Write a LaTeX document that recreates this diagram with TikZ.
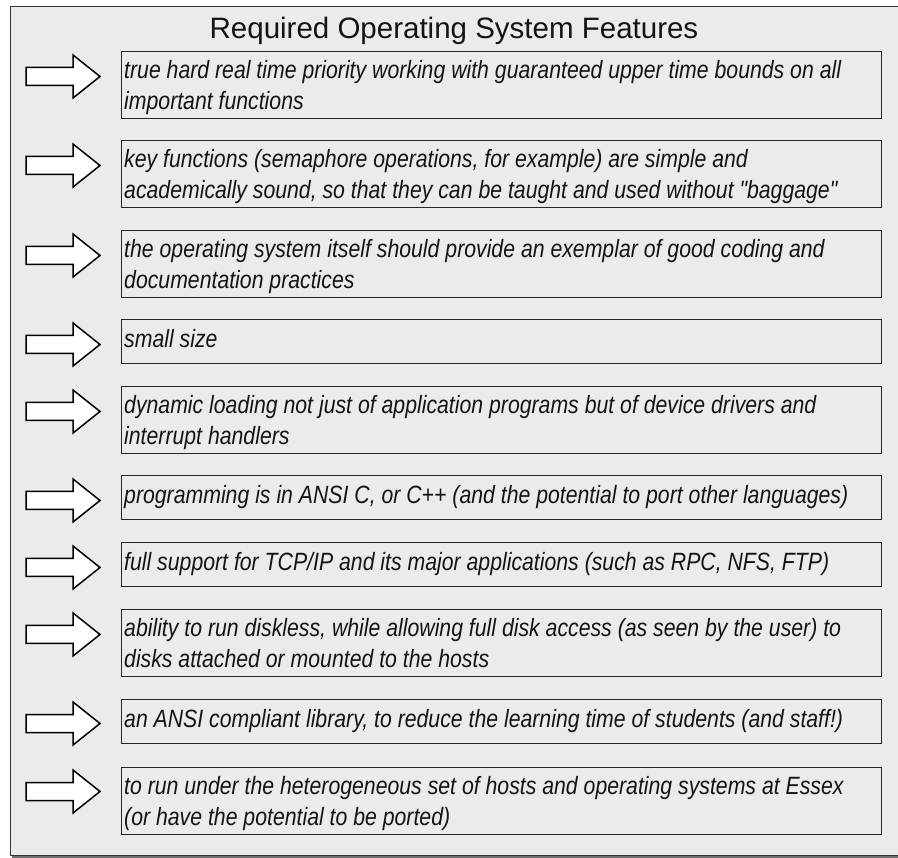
\documentclass[tikz,border=0pt]{standalone}
\usepackage{fontspec}
\setmainfont{Liberation Sans}
\newfontfamily\bodyfont[FakeStretch=0.85]{Liberation Sans}
\usetikzlibrary{calc}
\definecolor{panel}{HTML}{EBEBEB}
\definecolor{shadowgray}{HTML}{707070}
\tikzset{
  x=1pt, y=-1pt,
  itembox/.style={draw=black!85, line width=1pt, fill=panel, rectangle},
  itemtxt/.style={anchor=base west, inner sep=0pt, font=\bodyfont\itshape\fontsize{25}{30}\selectfont, text=black!92},
  bigarrow/.style={draw=black, line width=1.5pt, fill=white, line join=miter},
}
\newcommand{\itemarrow}[1]{%
  \draw[bigarrow] ($(#1)+(26,-9)$) -- ($(#1)+(73,-9)$) -- ($(#1)+(73,-21.5)$) -- ($(#1)+(100,0)$) -- ($(#1)+(73,21.5)$) -- ($(#1)+(73,9)$) -- ($(#1)+(26,9)$) -- cycle;}
\newcommand{\itemtwo}[4]{% name, top, line1, line2
  \draw[itembox] (121,#2) rectangle (881,#2+67);
  \coordinate (a#1) at (0,#2+24.5);
  \itemarrow{a#1}
  \node[itemtxt] (t#1a) at (124,#2+27) {#3};
  \node[itemtxt] (t#1b) at (124,#2+58) {#4};}
\newcommand{\itemone}[3]{% name, top, line1
  \draw[itembox] (121,#2) rectangle (881,#2+44);
  \coordinate (a#1) at (0,#2+24.5);
  \itemarrow{a#1}
  \node[itemtxt] (t#1a) at (124,#2+28) {#3};}
\begin{document}
\begin{tikzpicture}
\useasboundingbox (0,0) rectangle (898,858);
\fill[white] (0,0) rectangle (898,858);
\draw[shadowgray, line width=3pt] (12,856.5) -- (905,856.5);
\draw[black!80, line width=1pt, fill=panel] (10,7) rectangle (905,855);
\node[anchor=base, inner sep=0pt, font=\fontsize{29.5}{32}\selectfont, text=black!92] (title) at (454,39) {Required Operating System Features};
\itemtwo{1}{52}{true hard real time priority working with guaranteed upper time bounds on all}{important functions}
\itemtwo{2}{141}{key functions (semaphore operations, for example) are simple and}{academically sound, so that they can be taught and used without "baggage"}
\itemtwo{3}{231}{the operating system itself should provide an exemplar of good coding and}{documentation practices}
\itemone{4}{320}{small size}
\itemtwo{5}{387}{dynamic loading not just of application programs but of device drivers and}{interrupt handlers}
\itemone{6}{476}{programming is in ANSI C, or C++ (and the potential to port other languages)}
\itemone{7}{543}{full support for TCP/IP and its major applications (such as RPC, NFS, FTP)}
\itemtwo{8}{610}{ability to run diskless, while allowing full disk access (as seen by the user) to}{disks attached or mounted to the hosts}
\itemone{9}{699}{an ANSI compliant library, to reduce the learning time of students (and staff!)}
\itemtwo{10}{767}{to run under the heterogeneous set of hosts and operating systems at Essex}{(or have the potential to be ported)}
\end{tikzpicture}
\end{document}
